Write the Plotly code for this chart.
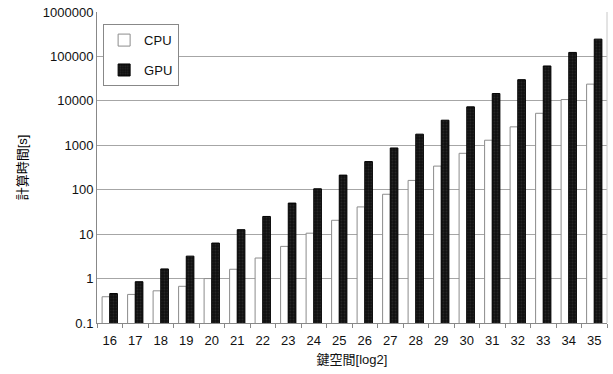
import plotly.graph_objects as go

categories = ["16", "17", "18", "19", "20", "21", "22", "23", "24", "25",
              "26", "27", "28", "29", "30", "31", "32", "33", "34", "35"]
cpu_times = [0.39, 0.44, 0.53, 0.67, 1.0, 1.62, 2.9, 5.3, 10.5, 20.5,
             41, 79, 162, 340, 660, 1300, 2600, 5250, 10700, 23800]
gpu_times = [0.46, 0.85, 1.65, 3.2, 6.3, 12.6, 25, 50, 105, 213,
             430, 870, 1780, 3670, 7330, 14600, 30000, 61000, 123000, 245000]
y_ticks = [0.1, 1, 10, 100, 1000, 10000, 100000, 1000000]
y_tick_labels = ["0.1", "1", "10", "100", "1000", "10000", "100000", "1000000"]

FONT = "Liberation Sans, Arial, Noto Sans CJK JP, sans-serif"

fig = go.Figure()
fig.add_trace(go.Bar(
    x=categories, y=cpu_times, name="CPU", legendgroup="cpu",
    marker=dict(color="white", line=dict(color="#8c8c8c", width=1)),
))
fig.add_trace(go.Bar(
    x=categories, y=gpu_times, name="GPU", legendgroup="gpu",
    marker=dict(color="#151515", line=dict(color="#000000", width=1),
                pattern=dict(shape=".", fgcolor="#3a3a3a", bgcolor="#111111", size=3, solidity=0.3)),
))

fig.update_layout(
    width=613, height=374,
    margin=dict(l=97, r=6, t=12, b=51),
    paper_bgcolor="white", plot_bgcolor="white",
    font=dict(family=FONT, size=13, color="#111111"),
    barmode="group", bargap=0.4, bargroupgap=0.0,
    showlegend=True,
    legend=dict(
        x=0.012, y=0.961, xanchor="left", yanchor="top",
        bordercolor="#888888", borderwidth=1, bgcolor="white",
        font=dict(size=13), traceorder="grouped", tracegroupgap=10,
        itemwidth=30,
    ),
    xaxis=dict(
        type="category", showgrid=False, showline=True, linecolor="#888888",
        ticks="outside", tickson="boundaries", ticklen=4, tickcolor="#888888",
        ticklabelstandoff=5,
        title=dict(text="鍵空間[log2]", standoff=8, font=dict(size=13)),
        mirror=False,
    ),
    yaxis=dict(
        type="log", range=[-1, 6], tickvals=y_ticks, ticktext=y_tick_labels,
        showgrid=True, gridcolor="#a6a6a6", gridwidth=1,
        showline=True, linecolor="#888888", ticks="", zeroline=False,
        title=dict(text="計算時間[s]", standoff=12, font=dict(size=13, color="#000000")),
    ),
)
fig.add_shape(type="line", xref="paper", yref="paper", x0=1, x1=1, y0=0, y1=1,
              line=dict(color="#c8c8c8", width=1))

fig.write_html("out.html", config={"displayModeBar": False},
               post_script="document.body.style.margin='0';")
